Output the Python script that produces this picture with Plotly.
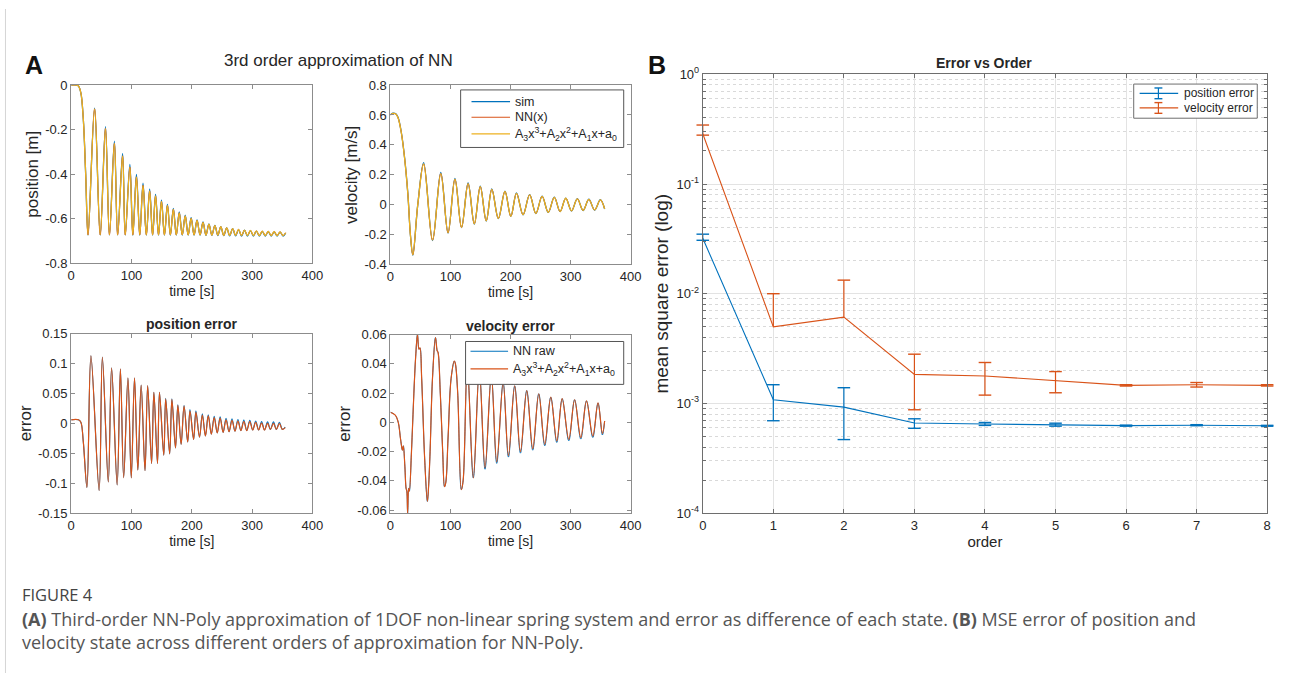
import plotly.graph_objects as go

W, H = 1290, 681

# ---------------- data ----------------
# panel A, top-left: position [m] (extrema of the oscillation)
pos_t = [0, 8, 12, 16, 20, 24, 27.9, 38.8, 48.1, 56.8, 63.4, 71.6, 77.0, 85.2, 89.6, 97.3,
         102.2, 108.2, 113.7, 119.1, 124.6, 130.1, 135.0, 139.9, 144.8, 149.7, 154.6, 159.6,
         164.5, 169.4, 174.3, 179.2, 184.2, 189.1, 194.0, 198.9, 203.8, 208.7, 213.7, 218.6,
         223.5, 228.4, 233.3, 238.3, 243.2, 248.1, 253.0, 257.9, 262.8, 267.8, 272.7, 277.6,
         282.5, 287.4, 292.3, 297.3, 302.2, 307.1, 312.0, 316.9, 321.9, 326.8, 331.7, 336.6,
         341.5, 346.4, 351.4, 355.7]
pos_poly = [0, 0, -0.004, -0.035, -0.15, -0.40,
            -0.672, -0.107, -0.672, -0.195, -0.672, -0.262, -0.672, -0.318, -0.672, -0.368,
            -0.672, -0.412, -0.672, -0.450, -0.672, -0.475, -0.672, -0.497, -0.672, -0.522,
            -0.672, -0.540, -0.672, -0.557, -0.672, -0.573, -0.672, -0.587, -0.672, -0.598,
            -0.672, -0.607, -0.672, -0.616, -0.673, -0.624, -0.673, -0.630, -0.673, -0.635,
            -0.674, -0.640, -0.674, -0.644, -0.674, -0.647, -0.675, -0.650, -0.675, -0.652,
            -0.675, -0.654, -0.675, -0.655, -0.675, -0.656, -0.675, -0.657, -0.675, -0.658,
            -0.675, -0.662]
pos_nn = [0, 0, -0.004, -0.035, -0.15, -0.40,
          -0.672, -0.107, -0.672, -0.195, -0.672, -0.262, -0.672, -0.318, -0.672, -0.368,
          -0.672, -0.412, -0.672, -0.450, -0.672, -0.475, -0.672, -0.497, -0.672, -0.522,
          -0.672, -0.540, -0.672, -0.557, -0.672, -0.573, -0.672, -0.587, -0.672, -0.598,
          -0.672, -0.607, -0.672, -0.616, -0.673, -0.624, -0.673, -0.630, -0.673, -0.635,
          -0.674, -0.640, -0.674, -0.644, -0.674, -0.647, -0.675, -0.650, -0.675, -0.652,
          -0.675, -0.654, -0.675, -0.655, -0.675, -0.656, -0.675, -0.657, -0.675, -0.658,
          -0.675, -0.662]
pos_sim = [0, 0, -0.004, -0.035, -0.15, -0.40,
           -0.673, -0.104, -0.673, -0.186, -0.673, -0.252, -0.673, -0.307, -0.673, -0.356,
           -0.673, -0.401, -0.673, -0.440, -0.673, -0.467, -0.673, -0.490, -0.673, -0.516,
           -0.673, -0.535, -0.673, -0.553, -0.673, -0.569, -0.673, -0.583, -0.673, -0.595,
           -0.673, -0.605, -0.673, -0.614, -0.674, -0.622, -0.674, -0.629, -0.675, -0.635,
           -0.675, -0.640, -0.676, -0.644, -0.676, -0.648, -0.677, -0.651, -0.677, -0.653,
           -0.677, -0.655, -0.677, -0.656, -0.677, -0.657, -0.677, -0.658, -0.677, -0.659,
           -0.677, -0.664]

# panel A, top-right: velocity [m/s]
vel_t = [0, 4, 9, 12.6, 18, 23.6, 29, 33.4, 37.3, 45.5,
         55.3, 70.1, 83.8, 95.9, 107.4, 118.4, 129.3, 139.7, 149.6, 159.5,
         168.8, 179.7, 190.7, 200.5, 209.9, 220.8, 231.8, 242.2, 252.6, 262.8,
         272.9, 282.5, 292.0, 301.6, 311.2, 320.8, 330.4, 340.0, 349.6, 356.7]
vel_poly = [0.600, 0.610, 0.606, 0.582, 0.484, 0.310, 0.070, -0.210, -0.335, 0.0,
            0.272, -0.237, 0.208, -0.188, 0.170, -0.152, 0.140, -0.128, 0.120, -0.108,
            0.102, -0.092, 0.088, -0.078, 0.076, -0.067, 0.066, -0.058, 0.056, -0.051,
            0.049, -0.046, 0.043, -0.041, 0.039, -0.038, 0.035, -0.035, 0.032, -0.028]
vel_nn = [0.600, 0.610, 0.606, 0.582, 0.484, 0.310, 0.070, -0.210, -0.335, 0.0,
          0.272, -0.237, 0.208, -0.188, 0.170, -0.152, 0.140, -0.128, 0.120, -0.108,
          0.102, -0.092, 0.088, -0.078, 0.076, -0.067, 0.066, -0.058, 0.056, -0.051,
          0.049, -0.046, 0.043, -0.041, 0.039, -0.038, 0.035, -0.035, 0.032, -0.028]
vel_sim = [0.602, 0.612, 0.608, 0.584, 0.486, 0.312, 0.072, -0.210, -0.338, 0.0,
           0.281, -0.240, 0.215, -0.190, 0.176, -0.154, 0.145, -0.130, 0.124, -0.110,
           0.105, -0.094, 0.090, -0.079, 0.078, -0.068, 0.067, -0.059, 0.057, -0.052,
           0.050, -0.047, 0.044, -0.042, 0.040, -0.039, 0.036, -0.036, 0.033, -0.029]

# panel A, bottom-left: position error
perr_t = [0, 12, 16, 20, 26.1, 32.7, 46.3, 51.7, 61.5, 67.0, 76.2, 81.6, 87.0, 94.1,
          99.6, 105.0, 110.5, 116.0, 122.4, 126.8, 133.3, 137.1, 143.1, 146.4,
          153.5, 156.7, 163.3, 167.0, 173.0, 176.9, 182.3, 187.2, 193.2, 197.0,
          203.0, 206.8, 212.8, 217.5, 222.6, 227.3, 232.4, 237.2, 242.2, 247.0,
          252.0, 256.8, 261.8, 266.7, 271.6, 276.5, 281.4, 286.3, 291.2, 296.2,
          301.0, 306.0, 310.8, 315.8, 320.6, 325.7, 330.4, 335.5, 340.2, 345.4,
          350.2, 355.0]
perr_poly = [0.006, 0.006, 0.002, -0.030, -0.107, 0.113, -0.112, 0.111, -0.098, 0.093, -0.103, 0.091, -0.091, 0.076,
             -0.091, 0.076, -0.078, 0.064, -0.079, 0.063, -0.067, 0.052, -0.067, 0.052,
             -0.053, 0.041, -0.051, 0.040, -0.041, 0.030, -0.035, 0.029, -0.031, 0.021,
             -0.027, 0.019, -0.023, 0.014, -0.021, 0.0125, -0.018, 0.0098, -0.016, 0.0087,
             -0.015, 0.006, -0.014, 0.005, -0.013, 0.004, -0.012, 0.003, -0.012, 0.003,
             -0.011, 0.0016, -0.011, 0.0005, -0.011, 0.0, -0.010, 0.0, -0.010, -0.0005,
             -0.010, -0.007]
perr_raw = [0.006, 0.006, 0.002, -0.030, -0.107, 0.113, -0.112, 0.111, -0.098, 0.093, -0.103, 0.091, -0.091, 0.076,
            -0.091, 0.076, -0.078, 0.064, -0.079, 0.063, -0.067, 0.052, -0.067, 0.052,
            -0.053, 0.042, -0.051, 0.041, -0.041, 0.031, -0.035, 0.030, -0.031, 0.023,
            -0.027, 0.021, -0.023, 0.016, -0.021, 0.0145, -0.018, 0.012, -0.016, 0.011,
            -0.015, 0.0085, -0.014, 0.0075, -0.013, 0.0065, -0.012, 0.0055, -0.012, 0.005,
            -0.011, 0.004, -0.011, 0.003, -0.011, 0.0025, -0.010, 0.0025, -0.010, 0.002,
            -0.010, -0.006]

# panel A, bottom-right: velocity error
verr_t = [0, 8, 13, 17, 20, 21.5, 24, 26, 27.3, 28.6,
          30.3, 31.5, 35, 39, 42, 45, 47.5, 49.2, 52, 57,
          61.5, 63.5, 66, 70, 75, 77.8, 79.2, 83, 87, 90,
          92.2, 96, 101, 106.4, 108.2, 112, 118, 121, 128, 138,
          148, 157.5, 168, 177, 187.7, 196.5, 206.9, 216.5, 227, 237,
          247, 257, 267, 277, 286, 297, 306.7, 317, 326.5, 337,
          345.7, 353, 356.7]
verr_poly = [0.007, 0.005, 0.0, -0.012, -0.019, -0.016, -0.030, -0.045, -0.047, -0.062,
             -0.045, -0.047, -0.020, 0.020, 0.045, 0.060, 0.050, 0.051, 0.030, -0.025,
             -0.054, -0.044, -0.020, 0.030, 0.058, 0.049, 0.048, 0.020, -0.020, -0.044,
             -0.041, -0.010, 0.030, 0.042, 0.040, 0.020, -0.046, -0.040, 0.040, -0.038,
             0.036, -0.031, 0.032, -0.027, 0.0273, -0.0227, 0.025, -0.020, 0.0218, -0.018,
             0.0196, -0.015, 0.0173, -0.0127, 0.0162, -0.0116, 0.0155, -0.0104, 0.0147, -0.0093,
             0.0133, -0.0076, 0.001]
verr_raw = [0.007, 0.005, 0.0, -0.012, -0.019, -0.016, -0.030, -0.045, -0.047, -0.062,
            -0.045, -0.047, -0.020, 0.020, 0.045, 0.060, 0.050, 0.051, 0.030, -0.025,
            -0.054, -0.044, -0.020, 0.030, 0.058, 0.049, 0.048, 0.020, -0.020, -0.044,
            -0.041, -0.010, 0.030, 0.042, 0.040, 0.020, -0.046, -0.040, 0.040, -0.038,
            0.036, -0.032, 0.032, -0.028, 0.0273, -0.0237, 0.025, -0.021, 0.0218, -0.019,
            0.0196, -0.016, 0.0173, -0.0137, 0.0162, -0.0126, 0.0155, -0.0114, 0.0147, -0.0103,
            0.0133, -0.0086, 0.001]

# panel B: error vs order
orders = [0, 1, 2, 3, 4, 5, 6, 7, 8]
pos_mean = [0.0320, 0.00108, 0.000925, 0.000663, 0.000649, 0.000640, 0.000627, 0.000633, 0.000625]
pos_upper = [0.0349, 0.00148, 0.00139, 0.000724, 0.000670, 0.000660, 0.000634, 0.000640, 0.000631]
pos_lower = [0.0307, 0.000695, 0.000468, 0.000593, 0.000630, 0.000620, 0.000620, 0.000626, 0.000619]
vel_mean = [0.287, 0.00499, 0.00612, 0.00184, 0.00178, 0.00160, 0.00146, 0.00148, 0.00146]
vel_upper = [0.345, 0.0100, 0.0133, 0.00281, 0.00236, 0.00195, 0.00148, 0.00155, 0.00148]
vel_lower = [0.279, 0.0, -0.0011, 0.000875, 0.00119, 0.00125, 0.00144, 0.00141, 0.00144]

# ---------------- styling ----------------
BLUE, ORANGE, YELLOW = '#0072BD', '#D95319', '#EDB120'
FONT = 'Liberation Sans, Arial, sans-serif'
BOX = '#8c8c8c'
TXT = '#262626'


def fx(x):
    return x / W


def fy(y):
    return 1 - y / H


fig = go.Figure()


def line(x, y, color, ax, width=1.2):
    fig.add_trace(go.Scatter(x=x, y=y, mode='lines', showlegend=False, hoverinfo='skip',
                             line=dict(color=color, width=width, shape='spline', smoothing=1.0),
                             xaxis='x' + ax, yaxis='y' + ax))


line(pos_t, pos_sim, BLUE, '', 1.3)
line(pos_t, pos_nn, ORANGE, '', 0.8)
line(pos_t, pos_poly, YELLOW, '', 1.3)
line(vel_t, vel_sim, BLUE, '2', 1.3)
line(vel_t, vel_nn, ORANGE, '2', 0.8)
line(vel_t, vel_poly, YELLOW, '2', 1.3)
line(perr_t, perr_raw, BLUE, '3', 1.1)
line(perr_t, perr_poly, ORANGE, '3', 1.2)
line(verr_t, verr_raw, BLUE, '4', 1.0)
line(verr_t, verr_poly, ORANGE, '4', 1.2)

# panel B
for mean, lo, hi, c in [(pos_mean, pos_lower, pos_upper, BLUE), (vel_mean, vel_lower, vel_upper, ORANGE)]:
    fig.add_trace(go.Scatter(x=orders, y=mean, mode='lines', line=dict(color=c, width=1.1),
                             xaxis='x5', yaxis='y5', showlegend=False, cliponaxis=False))
    bx, by, cx, cy = [], [], [], []
    for o, m, l, h in zip(orders, mean, lo, hi):
        bottom = l if l > 0 else m
        bx += [o, o, None]
        by += [bottom, h, None]
        cx.append(o)
        cy.append(h)
        if l > 0:
            cx.append(o)
            cy.append(l)
    fig.add_trace(go.Scatter(x=bx, y=by, mode='lines', line=dict(color=c, width=1.2),
                             xaxis='x5', yaxis='y5', showlegend=False, cliponaxis=False))
    fig.add_trace(go.Scatter(x=cx, y=cy, mode='markers', xaxis='x5', yaxis='y5', showlegend=False,
                             cliponaxis=False,
                             marker=dict(symbol='line-ew', size=9, color=c, line=dict(color=c, width=1.4))))


def axstyle(**kw):
    d = dict(showline=True, linecolor=BOX, linewidth=1, mirror='ticks', ticks='inside', ticklen=4,
             tickcolor=BOX, showgrid=False, zeroline=False,
             tickfont=dict(size=13, color=TXT, family=FONT))
    d.update(kw)
    return d


def title(t, size=14, standoff=4):
    return dict(text=t, font=dict(size=size, color=TXT, family=FONT), standoff=standoff)


xt = [0, 100, 200, 300, 400]
YL = 17
layout = dict(
    width=W, height=H, margin=dict(l=0, r=0, t=0, b=0),
    paper_bgcolor='white', plot_bgcolor='white', showlegend=False,
    font=dict(family=FONT, color=TXT),
    xaxis=axstyle(domain=[fx(68), fx(312)], range=[0, 400], tickvals=xt, anchor='y',
                  title=title('time [s]', 14, 2)),
    yaxis=axstyle(domain=[fy(261), fy(78)], range=[-0.8, 0], anchor='x',
                  tickvals=[-0.8, -0.6, -0.4, -0.2, 0], ticktext=['-0.8', '-0.6', '-0.4', '-0.2', '0'],
                  title=title('position [m]', YL, 2)),
    xaxis2=axstyle(domain=[fx(391), fx(634)], range=[0, 400], tickvals=xt, anchor='y2',
                   title=title('time [s]', 14, 2)),
    yaxis2=axstyle(domain=[fy(262), fy(78)], range=[-0.4, 0.8], anchor='x2',
                   tickvals=[-0.4, -0.2, 0, 0.2, 0.4, 0.6, 0.8],
                   ticktext=['-0.4', '-0.2', '0', '0.2', '0.4', '0.6', '0.8'],
                   title=title('velocity [m/s]', YL, 2)),
    xaxis3=axstyle(domain=[fx(68), fx(312)], range=[0, 400], tickvals=xt, anchor='y3',
                   title=title('time [s]', 14, 2)),
    yaxis3=axstyle(domain=[fy(517), fy(333)], range=[-0.15, 0.15], anchor='x3',
                   tickvals=[-0.15, -0.1, -0.05, 0, 0.05, 0.1, 0.15],
                   ticktext=['-0.15', '-0.1', '-0.05', '0', '0.05', '0.1', '0.15'],
                   title=title('error', YL, 2)),
    xaxis4=axstyle(domain=[fx(391), fx(634)], range=[0, 400], tickvals=xt, anchor='y4',
                   title=title('time [s]', 14, 2)),
    yaxis4=axstyle(domain=[fy(517), fy(334)], range=[-0.062, 0.06], anchor='x4',
                   tickvals=[-0.06, -0.04, -0.02, 0, 0.02, 0.04, 0.06],
                   ticktext=['-0.06', '-0.04', '-0.02', '0', '0.02', '0.04', '0.06'],
                   title=title('error', YL, 2)),
    xaxis5=axstyle(domain=[fx(707), fx(1278)], range=[0, 8], tickvals=orders, anchor='y5',
                   linecolor='#6e6e6e', tickcolor='#6e6e6e',
                   showgrid=True, gridcolor='#e3e3e3', gridwidth=1,
                   title=title('order', 15, 2)),
    yaxis5=axstyle(domain=[fy(517), fy(67)], type='log', range=[-4, 0], anchor='x5',
                   linecolor='#6e6e6e', tickcolor='#6e6e6e',
                   tickvals=[1e-4, 1e-3, 1e-2, 1e-1, 1],
                   ticktext=['10<sup>-4</sup>', '10<sup>-3</sup>', '10<sup>-2</sup>', '10<sup>-1</sup>', '10<sup>0</sup>'],
                   showgrid=True, gridcolor='#e3e3e3', gridwidth=1,
                   minor=dict(tickvals=[m * 10 ** e for e in range(-4, 0) for m in range(2, 10)],
                              ticks='inside', ticklen=3, tickcolor='#6e6e6e',
                              showgrid=True, gridcolor='#d9d9d9', griddash='dot', gridwidth=1),
                   title=title('mean square error (log)', 19, 2)),
)
fig.update_layout(**layout)

shapes = []
ann = []


def text(x, y, s, size, bold=False, color=TXT, anchor='center', family=FONT, align='center'):
    ann.append(dict(x=fx(x), y=fy(y), xref='paper', yref='paper', text=('<b>%s</b>' % s) if bold else s,
                    showarrow=False, xanchor=anchor, yanchor='middle', align=align,
                    font=dict(size=size, color=color, family=family)))


def seg(x0, y0, x1, y1, color, width=1.2):
    shapes.append(dict(type='line', xref='paper', yref='paper', x0=fx(x0), y0=fy(y0), x1=fx(x1), y1=fy(y1),
                       line=dict(color=color, width=width)))


def box(x0, y0, x1, y1, color='#555555'):
    shapes.append(dict(type='rect', xref='paper', yref='paper', x0=fx(x0), y0=fy(y0), x1=fx(x1), y1=fy(y1),
                       line=dict(color=color, width=1), fillcolor='white', layer='above'))


# titles / panel letters
text(30, 57, 'A', 25, bold=True, color='#111111')
text(661, 57, 'B', 25, bold=True, color='#111111')
text(338, 53, '3rd order approximation of NN', 17)
text(190, 323, 'position error', 14, bold=True)
text(512, 325, 'velocity error', 14, bold=True)
text(992, 55, 'Error vs Order', 14, bold=True)

POLY = 'A<sub>3</sub>x<sup>3</sup>+A<sub>2</sub>x<sup>2</sup>+A<sub>1</sub>x+a<sub>0</sub>'
# legend of velocity plot
box(462, 83, 627, 142)
for yy, c, s in [(95, BLUE, 'sim'), (111, ORANGE, 'NN(x)'), (128, YELLOW, POLY)]:
    seg(473, yy, 512, yy, c)
    text(515, yy, s, 12.5, anchor='left')
# legend of velocity error plot
box(467, 341, 627, 385)
for yy, c, s in [(351, BLUE, 'NN raw'), (369, ORANGE, POLY)]:
    seg(472, yy, 510, yy, c)
    text(513, yy, s, 12.5, anchor='left')
# legend of panel B
box(1143, 77, 1268, 112, '#6e6e6e')
for yy, c, s in [(86.5, BLUE, 'position error'), (101.5, ORANGE, 'velocity error')]:
    seg(1149, yy, 1188, yy, c)
    seg(1168, yy - 5.5, 1168, yy + 5.5, c)
    seg(1164, yy - 5.5, 1172, yy - 5.5, c, 1.4)
    seg(1164, yy + 5.5, 1172, yy + 5.5, c, 1.4)
    text(1192, yy, s, 12, anchor='left')

# caption
CAP = 'Open Sans, Lato, sans-serif'
text(16, 600, 'FIGURE 4', 16.5, color='#444444', anchor='left', family=CAP)
text(16, 637, '<b>(A)</b> Third-order NN-Poly approximation of 1DOF non-linear spring system and error as '
              'difference of each state. <b>(B)</b> MSE error of position and<br>'
              'velocity state across different orders of approximation for NN-Poly.', 18, color='#555555',
     anchor='left', family=CAP, align='left')

# figure frame line
seg(1.5, 0, 1.5, H, '#d5d5d5', 1)

fig.update_layout(shapes=shapes, annotations=ann)
fig.write_html('out.html', config=dict(displayModeBar=False),
               post_script="document.body.style.margin='0';document.body.style.overflow='hidden';")
